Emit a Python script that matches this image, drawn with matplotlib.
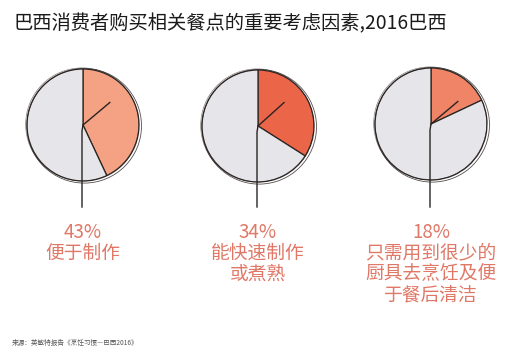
import matplotlib
matplotlib.use("Agg")
import matplotlib.pyplot as plt
import numpy as np
from matplotlib.patches import Circle

plt.rcParams['font.family'] = ['Noto Sans CJK SC', 'DejaVu Sans']

title = "巴西消费者购买相关餐点的重要考虑因素,2016巴西"
shares = [43, 34, 18]
labels = ["便于制作", "能快速制作\n或煮熟", "只需用到很少的\n厨具去烹饪及便\n于餐后清洁"]
colors = ["#F4A283", "#EB6648", "#F08466"]
source = "来源：英敏特报告《烹饪习惯—巴西2016》"

W, H = 511, 361
fig = plt.figure(figsize=(W / 100, H / 100), dpi=100)
ax = fig.add_axes([0, 0, 1, 1])

centers_px = [(83, 125), (258, 126), (431, 124)]
R = 56
gray = "#E6E5EA"
ink = "#2a2422"
txtcol = "#E07867"
hand_angles = [40, 42, 40]

for i, (p, lab, col) in enumerate(zip(shares, labels, colors)):
    cx, cy_px = centers_px[i]
    cy = H - cy_px
    ax.pie([p, 100 - p], colors=[col, gray], startangle=90, counterclock=False,
           center=(cx, cy), radius=R, frame=True,
           wedgeprops=dict(edgecolor=ink, linewidth=0.9))
    # sketchy double outline
    ax.add_patch(Circle((cx + 1.2, cy - 0.8), R + 1.3, fill=False, ec=ink, lw=0.6, alpha=0.8))
    ax.add_patch(Circle((cx - 0.8, cy + 0.6), R + 0.5, fill=False, ec=ink, lw=0.5, alpha=0.6))
    # clock hand and stem
    a = np.deg2rad(hand_angles[i])
    ax.plot([cx, cx + 35 * np.cos(a)], [cy, cy + 35 * np.sin(a)], color=ink, lw=1.0)
    ax.plot([cx, cx - 1, cx - 1], [cy, cy - 6, H - 207], color=ink, lw=1.0)
    # labels
    ax.text(cx, H - 233, f"{p}%", ha='center', va='center', fontsize=13.5, color=txtcol)
    for k, line in enumerate(lab.split("\n")):
        ax.text(cx, H - (253 + 21 * k), line, ha='center', va='center',
                fontsize=13.5, color=txtcol)

ax.set_xlim(0, W)
ax.set_ylim(0, H)
ax.set_aspect('equal')
ax.axis('off')

fig.text(14 / W, 1 - 24 / H, title, ha='left', va='center', fontsize=13.9,
         color="#1a1a1a", fontweight='medium')
fig.text(12 / W, 1 - 343 / H, source, ha='left', va='center', fontsize=4.8, color="#555555")

fig.savefig("out.png", dpi=100, facecolor='white')
